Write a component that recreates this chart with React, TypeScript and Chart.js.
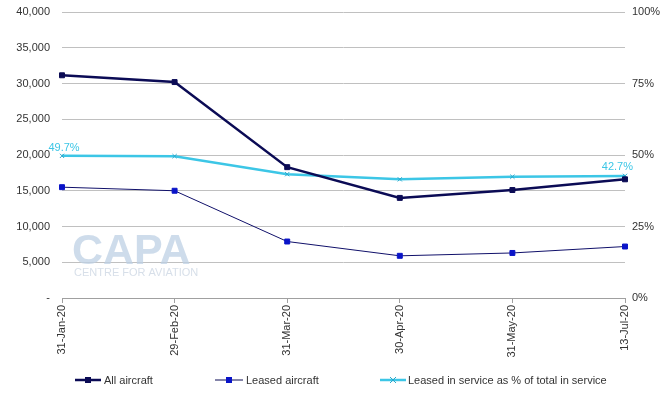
import React, { useEffect, useRef } from "react";
import { Chart, registerables } from "chart.js";

Chart.register(...registerables);

const categories = ["31-Jan-20", "29-Feb-20", "31-Mar-20", "30-Apr-20", "31-May-20", "13-Jul-20"];
const allAircraft = [31150, 30200, 18300, 14000, 15100, 16600];
const leasedAircraft = [15500, 15000, 7900, 5900, 6300, 7200];
const leasedPct = [49.7, 49.6, 43.3, 41.5, 42.4, 42.7];
const seriesNames = ["All aircraft", "Leased aircraft", "Leased in service as % of total in service"];

const FONT = "'Liberation Sans', Arial, sans-serif";
const TXT = "#333333";
const NAVY = "#0b0b55";
const BLUE = "#0a14c8";
const CYAN = "#3cc6e6";

const extrasPlugin = {
  id: "extras",
  beforeDatasetsDraw(chart: any) {
    const ctx = chart.ctx;
    ctx.save();
    ctx.fillStyle = "rgba(190,208,228,0.75)";
    ctx.font = `bold 43px ${FONT}`;
    ctx.textAlign = "left";
    ctx.textBaseline = "alphabetic";
    ctx.fillText("CAPA", 72, 264);
    ctx.fillStyle = "rgba(205,215,228,0.8)";
    ctx.font = `11px ${FONT}`;
    ctx.fillText("CENTRE FOR AVIATION", 74, 276);
    ctx.restore();
  },
  afterDatasetsDraw(chart: any) {
    const ctx = chart.ctx;
    const meta = chart.getDatasetMeta(2);
    const pts = meta.data;
    ctx.save();
    ctx.fillStyle = CYAN;
    ctx.font = `11px ${FONT}`;
    ctx.textBaseline = "alphabetic";
    const first = pts[0];
    ctx.textAlign = "center";
    ctx.fillText(leasedPct[0].toFixed(1) + "%", first.x + 2, first.y - 5);
    const last = pts[pts.length - 1];
    ctx.textAlign = "right";
    ctx.fillText(leasedPct[leasedPct.length - 1].toFixed(1) + "%", last.x + 8, last.y - 6);
    ctx.restore();
  },
  afterDraw(chart: any) {
    const ctx = chart.ctx;
    const y = 380;
    const items = [
      { x0: 75, x1: 101, color: NAVY, marker: NAVY, lw: 2.5, style: "square", tx: 104 },
      { x0: 215, x1: 243, color: NAVY, marker: BLUE, lw: 1, style: "square", tx: 246 },
      { x0: 380, x1: 406, color: CYAN, marker: CYAN, lw: 2.5, style: "cross", tx: 408 },
    ];
    ctx.save();
    items.forEach((it, i) => {
      ctx.strokeStyle = it.color;
      ctx.lineWidth = it.lw;
      ctx.beginPath();
      ctx.moveTo(it.x0, y);
      ctx.lineTo(it.x1, y);
      ctx.stroke();
      const mx = (it.x0 + it.x1) / 2;
      if (it.style === "square") {
        ctx.fillStyle = it.marker;
        ctx.fillRect(mx - 3, y - 3, 6, 6);
      } else {
        ctx.strokeStyle = "#2aa8cc";
        ctx.lineWidth = 1;
        ctx.beginPath();
        ctx.moveTo(mx - 3, y - 3);
        ctx.lineTo(mx + 3, y + 3);
        ctx.moveTo(mx + 3, y - 3);
        ctx.lineTo(mx - 3, y + 3);
        ctx.stroke();
      }
      ctx.fillStyle = TXT;
      ctx.font = `11px ${FONT}`;
      ctx.textAlign = "left";
      ctx.textBaseline = "middle";
      ctx.fillText(seriesNames[i], it.tx, y + 1);
    });
    ctx.restore();
  },
};

export default function App() {
  const ref = useRef<HTMLCanvasElement>(null);
  useEffect(() => {
    if (!ref.current) return;
    const chart = new Chart(ref.current, {
      type: "line",
      data: {
        labels: categories,
        datasets: [
          {
            label: seriesNames[0],
            data: allAircraft,
            borderColor: NAVY,
            backgroundColor: NAVY,
            borderWidth: 2.5,
            pointStyle: "rect",
            pointRadius: 3.5,
            pointBackgroundColor: NAVY,
            pointBorderColor: NAVY,
            pointBorderWidth: 1,
            tension: 0,
            yAxisID: "y",
          },
          {
            label: seriesNames[1],
            data: leasedAircraft,
            borderColor: "#10106a",
            backgroundColor: BLUE,
            borderWidth: 1,
            pointStyle: "rect",
            pointRadius: 3.5,
            pointBackgroundColor: BLUE,
            pointBorderColor: BLUE,
            pointBorderWidth: 1,
            tension: 0,
            yAxisID: "y",
          },
          {
            label: seriesNames[2],
            data: leasedPct,
            borderColor: CYAN,
            backgroundColor: CYAN,
            borderWidth: 2.5,
            pointStyle: "crossRot",
            pointRadius: 3,
            pointBorderColor: "#2aa8cc",
            pointBorderWidth: 1,
            tension: 0,
            yAxisID: "y1",
          },
        ],
      },
      options: {
        animation: false,
        responsive: false,
        maintainAspectRatio: false,
        layout: { padding: { top: 12, bottom: 40, left: 0, right: 0 } },
        plugins: {
          legend: { display: false },
          tooltip: { enabled: false },
        },
        scales: {
          x: {
            offset: false,
            grid: {
              drawOnChartArea: false,
              drawTicks: true,
              tickLength: 5,
              color: "#a0a0a0",
            },
            border: { display: true, color: "#a0a0a0", width: 1 },
            ticks: {
              minRotation: 90,
              maxRotation: 90,
              autoSkip: false,
              color: TXT,
              font: { family: FONT, size: 11 },
              padding: 2,
            },
            afterFit(scale: any) {
              scale.height = 60;
            },
          },
          y: {
            position: "left",
            min: 0,
            max: 40000,
            ticks: {
              stepSize: 5000,
              color: TXT,
              font: { family: FONT, size: 11 },
              padding: 12,
              callback: (v: any) => (v === 0 ? "-" : Number(v).toLocaleString("en-US")),
            },
            grid: { color: "#c0c0c0", drawTicks: false, lineWidth: 1 },
            border: { display: false },
            afterFit(scale: any) {
              scale.width = 62;
              scale.paddingTop = 0;
              scale.paddingBottom = 0;
            },
          },
          y1: {
            position: "right",
            min: 0,
            max: 100,
            ticks: {
              stepSize: 25,
              color: TXT,
              font: { family: FONT, size: 11 },
              padding: 7,
              callback: (v: any) => v + "%",
            },
            grid: { drawOnChartArea: false, drawTicks: false },
            border: { display: false },
            afterFit(scale: any) {
              scale.width = 40;
              scale.paddingTop = 0;
              scale.paddingBottom = 0;
            },
          },
        },
      },
      plugins: [extrasPlugin],
    });
    return () => chart.destroy();
  }, []);
  return (
    <div style={{ position: "absolute", left: 0, top: 0, width: 665, height: 398, background: "#ffffff" }}>
      <canvas ref={ref} width={665} height={398} style={{ display: "block", width: 665, height: 398 }} />
    </div>
  );
}
